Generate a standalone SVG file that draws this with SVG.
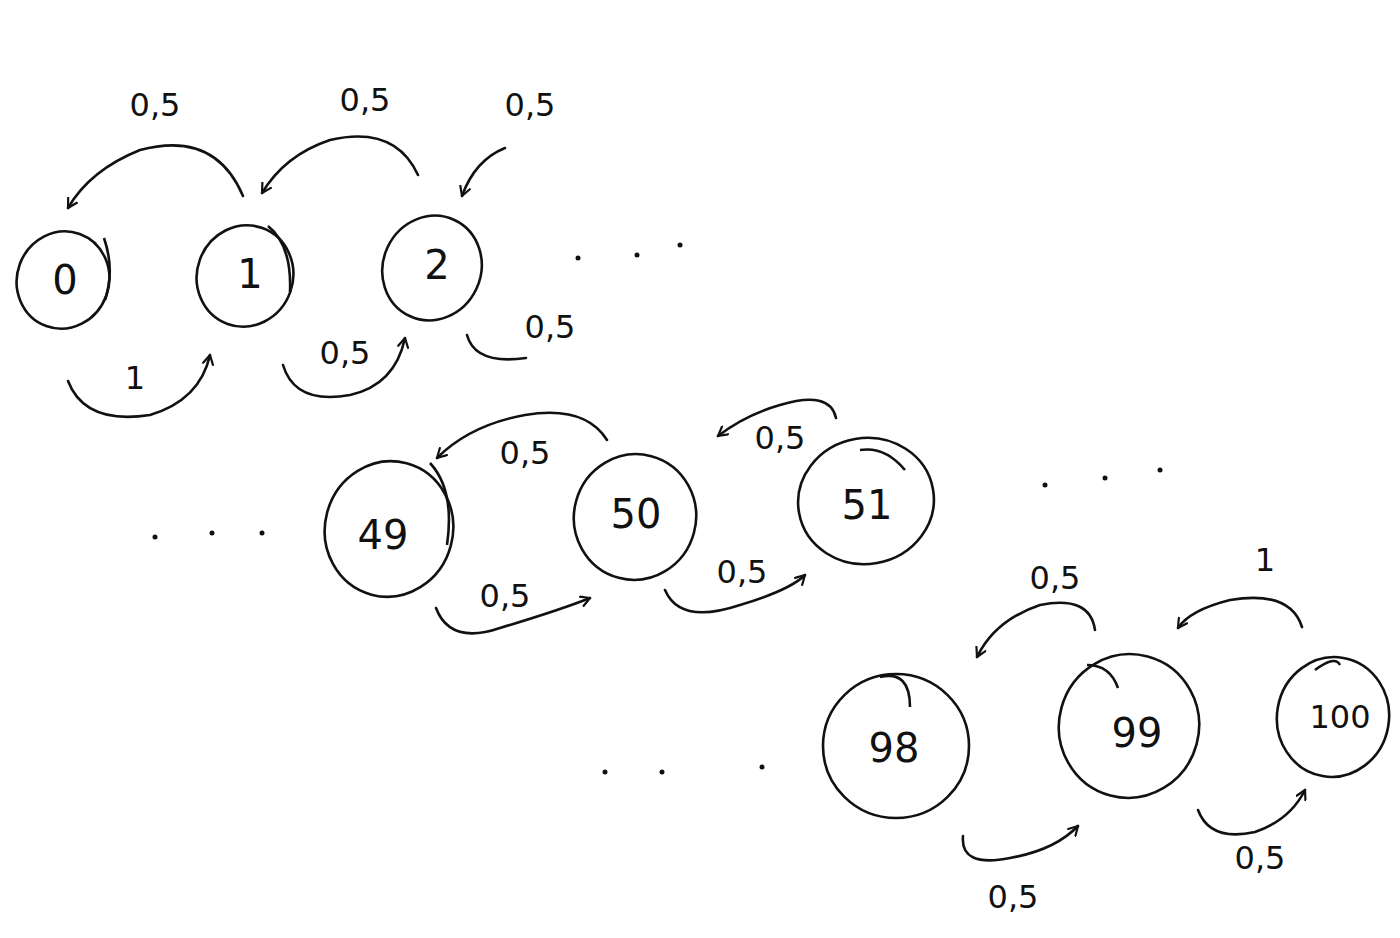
<svg xmlns="http://www.w3.org/2000/svg" width="1400" height="938" viewBox="0 0 1400 938">
<style>
.n{fill:none;stroke:#111;stroke-width:2.6}
.c{fill:none;stroke:#111;stroke-width:2.6;stroke-linecap:round}
.t{font-family:"DejaVu Sans",sans-serif;font-size:40px;fill:#111;text-anchor:middle;dominant-baseline:central}
.l{font-family:"DejaVu Sans",sans-serif;font-size:32px;fill:#111;text-anchor:middle;dominant-baseline:central}
.d{fill:#111}
</style>
<defs>
<marker id="a" viewBox="0 0 12 12" refX="10" refY="6" markerWidth="12" markerHeight="12" markerUnits="userSpaceOnUse" orient="auto">
<path d="M1,1 L10,6 L1,11" fill="none" stroke="#111" stroke-width="2.2" stroke-linecap="round" stroke-linejoin="round"/>
</marker>
</defs>
<rect width="1400" height="938" fill="#fff"/>

<g id="node-0"><ellipse class="n" cx="63" cy="280" rx="46" ry="49" transform="rotate(20 63 280)"/><path class="n" d="M104,238 Q115,270 105,300"/><text class="t" x="65" y="280">0</text></g>
<g id="node-1"><ellipse class="n" cx="245" cy="276" rx="48" ry="51" transform="rotate(20 245 276)"/><path class="n" d="M268,226 Q292,245 290,292"/><text class="t" x="250" y="274">1</text></g>
<g id="node-2"><ellipse class="n" cx="432" cy="268" rx="49" ry="53" transform="rotate(25 432 268)"/><text class="t" x="437" y="265">2</text></g>

<g id="node-49"><ellipse class="n" cx="389" cy="529" rx="64" ry="68" transform="rotate(15 389 529)"/><path class="n" d="M430,463 Q455,490 447,545"/><text class="t" x="383" y="535">49</text></g>
<g id="node-50"><ellipse class="n" cx="635" cy="517" rx="61" ry="63" transform="rotate(15 635 517)"/><text class="t" x="636" y="514">50</text></g>
<g id="node-51"><ellipse class="n" cx="866" cy="501" rx="68" ry="63" transform="rotate(-10 866 501)"/><path class="n" d="M860,450 Q885,446 905,470"/><text class="t" x="867" y="505">51</text></g>

<g id="node-98"><ellipse class="n" cx="896" cy="746" rx="73" ry="72"/><path class="n" d="M880,677 Q910,670 910,707"/><text class="t" x="894" y="748">98</text></g>
<g id="node-99"><ellipse class="n" cx="1129" cy="726" rx="70" ry="72" transform="rotate(15 1129 726)"/><path class="n" d="M1087,665 Q1110,665 1118,688"/><text class="t" x="1137" y="733">99</text></g>
<g id="node-100"><ellipse class="n" cx="1333" cy="717" rx="56" ry="60" transform="rotate(10 1333 717)"/><path class="n" d="M1315,670 Q1335,655 1340,665"/><text class="l" x="1340" y="717">100</text></g>

<g id="connectors">
<path class="c" d="M243,196 Q215,130 140,150 Q90,170 68,208" marker-end="url(#a)"/>
<path class="c" d="M418,175 Q395,125 330,140 Q285,155 262,193" marker-end="url(#a)"/>
<path class="c" d="M505,148 Q475,160 462,196" marker-end="url(#a)"/>
<path class="c" d="M68,381 Q85,425 150,415 Q200,400 210,355" marker-end="url(#a)"/>
<path class="c" d="M283,365 Q295,405 350,395 Q395,385 405,338" marker-end="url(#a)"/>
<path class="c" d="M467,335 Q475,365 526,358"/>
<path class="c" d="M607,440 Q585,405 525,415 Q470,425 437,458" marker-end="url(#a)"/>
<path class="c" d="M836,418 Q830,390 780,405 Q745,415 718,436" marker-end="url(#a)"/>
<path class="c" d="M436,608 Q450,645 500,628 Q560,610 590,598" marker-end="url(#a)"/>
<path class="c" d="M665,590 Q680,625 740,605 Q790,590 805,575" marker-end="url(#a)"/>
<path class="c" d="M1095,630 Q1090,595 1040,605 Q995,620 977,657" marker-end="url(#a)"/>
<path class="c" d="M1302,627 Q1290,590 1230,600 Q1190,610 1178,628" marker-end="url(#a)"/>
<path class="c" d="M963,836 Q960,868 1010,858 Q1055,850 1078,826" marker-end="url(#a)"/>
<path class="c" d="M1198,810 Q1210,842 1255,832 Q1290,820 1305,790" marker-end="url(#a)"/>
</g>

<g id="labels">
<text class="l" x="155" y="105">0,5</text>
<text class="l" x="365" y="100">0,5</text>
<text class="l" x="530" y="105">0,5</text>
<text class="l" x="135" y="378">1</text>
<text class="l" x="345" y="353">0,5</text>
<text class="l" x="550" y="327">0,5</text>
<text class="l" x="525" y="453">0,5</text>
<text class="l" x="780" y="438">0,5</text>
<text class="l" x="505" y="596">0,5</text>
<text class="l" x="742" y="572">0,5</text>
<text class="l" x="1055" y="578">0,5</text>
<text class="l" x="1265" y="560">1</text>
<text class="l" x="1013" y="897">0,5</text>
<text class="l" x="1260" y="858">0,5</text>
</g>

<g id="dots">
<circle class="d" cx="578" cy="258" r="2.5"/><circle class="d" cx="637" cy="255" r="2.5"/><circle class="d" cx="680" cy="245" r="2.5"/>
<circle class="d" cx="155" cy="537" r="2.5"/><circle class="d" cx="212" cy="533" r="2.5"/><circle class="d" cx="262" cy="533" r="2.5"/>
<circle class="d" cx="1045" cy="485" r="2.5"/><circle class="d" cx="1105" cy="478" r="2.5"/><circle class="d" cx="1160" cy="470" r="2.5"/>
<circle class="d" cx="605" cy="772" r="2.5"/><circle class="d" cx="662" cy="772" r="2.5"/><circle class="d" cx="762" cy="767" r="2.5"/>
</g>
</svg>
